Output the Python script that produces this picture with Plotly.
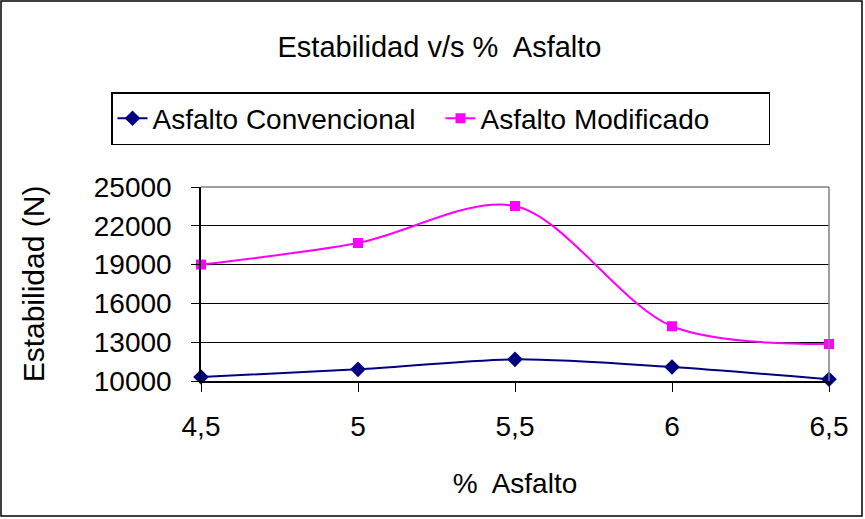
import plotly.graph_objects as go

asfalto = [4.5, 5, 5.5, 6, 6.5]
tick_labels = ["4,5", "5", "5,5", "6", "6,5"]
convencional = [10310, 10900, 11675, 11080, 10130]
modificado = [19000, 20670, 23530, 14230, 12860]
y_ticks = [10000, 13000, 16000, 19000, 22000, 25000]

FONT = "Arial, Liberation Sans, sans-serif"

fig = go.Figure()
fig.add_trace(go.Scatter(
    x=asfalto, y=convencional, name="Asfalto Convencional",
    mode="lines+markers", line=dict(color="#000080", width=2, shape="spline", smoothing=0.8),
    marker=dict(symbol="diamond", size=12, color="#000080"), cliponaxis=False))
fig.add_trace(go.Scatter(
    x=asfalto, y=modificado, name="Asfalto Modificado",
    mode="lines+markers", line=dict(color="#FF00FF", width=2, shape="spline", smoothing=0.9),
    marker=dict(symbol="square", size=10, color="#FF00FF"), cliponaxis=False))

L, R, T, B = 201, 829, 187, 381
pw, ph = R - L, B - T
def px(x): return (x - L) / pw
def py(y): return (B - y) / ph

fig.update_layout(
    width=865, height=519,
    margin=dict(l=L, r=865 - R, t=T, b=519 - B, autoexpand=False),
    paper_bgcolor="white", plot_bgcolor="white",
    font=dict(family=FONT, size=28, color="black"),
    title=dict(text="Estabilidad v/s %  Asfalto", x=439.5 / 865, xref="container", xanchor="center",
               y=1 - 47 / 519, yref="container", yanchor="middle",
               font=dict(family=FONT, size=29, color="black")),
    legend=dict(orientation="h", x=px(111), xanchor="left", y=py(92), yanchor="top",
                bordercolor="black", borderwidth=1.5, bgcolor="white",
                font=dict(family=FONT, size=28, color="black"),
                entrywidth=283, entrywidthmode="pixels",
                tracegroupgap=0),
    showlegend=True,
    shapes=[dict(type="rect", xref="paper", yref="paper",
                 x0=px(1), x1=px(862), y0=py(516), y1=py(1),
                 line=dict(color="black", width=1.5), layer="below")],
)
fig.update_xaxes(range=[4.5, 6.5], tickvals=asfalto, ticktext=tick_labels,
                 showgrid=False, zeroline=False, showline=True, linecolor="black", linewidth=1.5,
                 ticks="outside", ticklen=9, tickcolor="black", mirror=False,
                 ticklabelstandoff=11,
                 title=dict(text="%  Asfalto", standoff=32, font=dict(size=28)),
                 tickfont=dict(size=28))
fig.update_yaxes(range=[10000, 25000], tickvals=y_ticks, tickformat="d",
                 showgrid=True, gridcolor="black", gridwidth=1, zeroline=False,
                 showline=True, linecolor="black", linewidth=1.5,
                 ticks="outside", ticklen=8, tickcolor="black",
                 ticklabelstandoff=14,
                 title=dict(text="Estabilidad (N)", standoff=40, font=dict(size=30)),
                 tickfont=dict(size=28))
fig.add_shape(type="line", xref="paper", yref="paper", x0=0, x1=1, y0=1, y1=1,
              line=dict(color="#808080", width=1.5))
fig.add_shape(type="line", xref="paper", yref="paper", x0=1, x1=1, y0=0, y1=1,
              line=dict(color="#808080", width=1.5))

fig.write_html("out.html", config={"displayModeBar": False},
               post_script="document.body.style.margin='0';")
